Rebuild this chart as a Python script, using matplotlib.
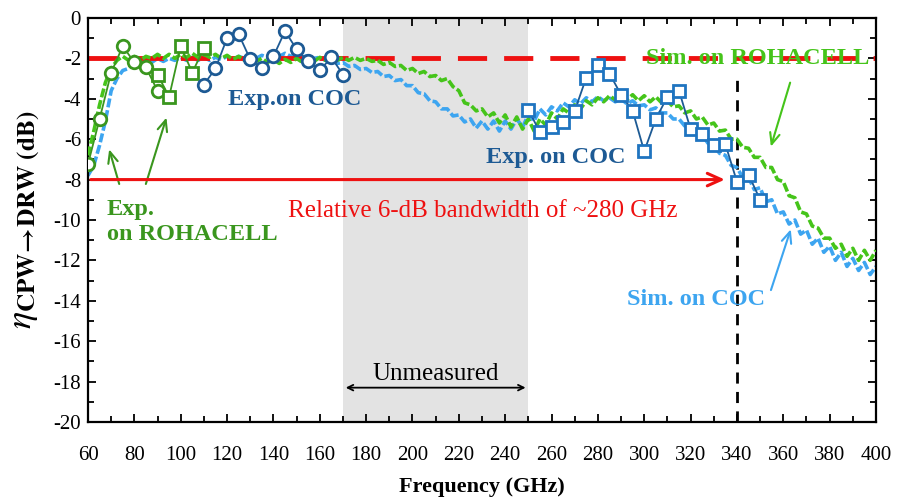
import numpy as np
import matplotlib
matplotlib.use("Agg")
import matplotlib.pyplot as plt
from matplotlib.ticker import MultipleLocator

plt.rcParams['font.family'] = ['Liberation Serif', 'DejaVu Serif']
plt.rcParams['mathtext.fontset'] = 'stix'
plt.rcParams['axes.unicode_minus'] = False

# simulated curves, sampled every 2.5 GHz from 60 to 400 GHz
sim_step = 2.5
sim_rohacell = [
    -6.8, -5.6, -4.3, -3.2, -2.5, -2.1, -1.9, -2.1, -1.9, -2.1,
    -1.9, -2.0, -1.8, -2.0, -1.8, -2.0, -1.8, -1.95, -1.75, -1.95,
    -1.8, -1.95, -1.8, -2.0, -1.85, -2.05, -1.9, -2.1, -1.95, -2.15,
    -2.0, -2.2, -2.05, -2.25, -2.05, -2.2, -2.0, -2.2, -2.0, -2.15,
    -1.95, -2.1, -1.95, -2.1, -1.95, -2.1, -1.95, -2.1, -2.0, -2.15,
    -2.1, -2.3, -2.2, -2.4, -2.35, -2.6, -2.5, -2.75, -2.65, -2.9,
    -2.85, -3.1, -3.0, -3.4, -3.6, -4.2, -4.3, -4.6, -4.5, -4.9,
    -4.7, -5.2, -4.8, -5.4, -4.9, -5.5, -5.0, -5.6, -5.0, -5.3,
    -4.7, -5.0, -4.5, -4.7, -4.3, -4.5, -4.1, -4.3, -3.95, -4.15,
    -3.85, -4.05, -3.85, -4.05, -3.8, -4.1, -3.85, -4.15, -3.9, -4.2,
    -4.1, -4.4, -4.35, -4.7, -4.6, -5.0, -4.9, -5.3, -5.2, -5.6,
    -5.55, -6.0, -6.0, -6.4, -6.45, -6.9, -6.9, -7.4, -7.4, -8.0,
    -8.1, -8.8, -8.9, -9.6, -9.7, -10.3, -10.4, -10.9, -10.9, -11.4,
    -11.2, -11.8, -11.4, -12.0, -11.5, -12.0, -11.5,
]
sim_coc = [
    -7.8, -7.3, -6.3, -5.1, -3.6, -3.0, -2.6, -2.5, -2.2, -2.3,
    -2.1, -2.2, -2.0, -2.15, -2.0, -2.1, -1.95, -2.1, -1.95, -2.1,
    -1.95, -2.1, -1.95, -2.05, -1.9, -2.05, -1.9, -2.0, -1.85, -2.0,
    -1.85, -1.95, -1.8, -1.9, -1.75, -1.9, -1.8, -1.95, -1.85, -2.0,
    -1.95, -2.1, -2.05, -2.25, -2.2, -2.4, -2.35, -2.55, -2.5, -2.7,
    -2.65, -2.9, -2.85, -3.1, -3.05, -3.35, -3.35, -3.7, -3.75, -4.1,
    -4.15, -4.5, -4.5, -4.85, -4.8, -5.15, -5.0, -5.45, -5.1, -5.5,
    -5.1, -5.6, -5.1, -5.5, -5.0, -5.4, -4.8, -5.1, -4.5, -4.8,
    -4.4, -4.6, -4.2, -4.4, -4.05, -4.25, -3.95, -4.15, -3.9, -4.1,
    -3.95, -4.15, -4.0, -4.25, -4.1, -4.35, -4.3, -4.55, -4.45, -4.7,
    -4.7, -5.0, -5.0, -5.35, -5.4, -5.75, -5.8, -6.2, -6.3, -6.7,
    -6.8, -7.3, -7.4, -7.9, -7.9, -8.5, -8.4, -9.1, -9.0, -9.7,
    -9.6, -10.2, -10.0, -10.7, -10.5, -11.2, -10.9, -11.6, -11.3, -12.0,
    -11.6, -12.3, -11.9, -12.5, -12.1, -12.7, -12.3,
]

# measured, ROHACELL
roh_circ_f = [60, 65, 70, 75, 80, 85, 90]
roh_circ_v = [-7.23, -5.0, -2.7, -1.4, -2.2, -2.45, -3.6]
roh_sq_f = [90, 95, 100, 105, 110]
roh_sq_v = [-2.8, -3.9, -1.4, -2.7, -1.5]

# measured, COC
coc_circ_f = [110, 115, 120, 125, 130, 135, 140, 145, 150, 155, 160, 165, 170]
coc_circ_v = [-3.3, -2.5, -1.0, -0.8, -2.05, -2.5, -1.9, -0.65, -1.55, -2.15,
              -2.6, -1.95, -2.8]
coc_sq_f = [250, 255, 260, 265, 270, 275, 280, 285, 290, 295, 300, 305, 310,
            315, 320, 325, 330, 335, 340, 345, 350]
coc_sq_v = [-4.55, -5.65, -5.4, -5.15, -4.6, -2.95, -2.35, -2.75, -3.8, -4.6,
            -6.6, -5.0, -3.9, -3.6, -5.5, -5.75, -6.3, -6.25, -8.1, -7.75, -9.0]

ref_level = -2
bw_level = -8
bw_edge = 340
unmeasured = (170, 250)

green_sim = '#45C41A'
blue_sim = '#3DA5F0'
green_exp = '#3A961E'
navy = '#1D5A94'
sq_blue = '#1F74C0'

fig = plt.figure(figsize=(8.98, 4.99), dpi=100)
ax = fig.add_axes([0.098, 0.1543, 0.8775, 0.8097])

ax.axvspan(*unmeasured, color='#E3E3E3', lw=0, zorder=0)

sim_f = 60 + sim_step * np.arange(len(sim_coc))
ax.plot(sim_f, sim_coc, color=blue_sim, lw=2.6, ls=(0, (2.5, 0.8)), zorder=2)
ax.plot(sim_f, sim_rohacell, color=green_sim, lw=2.6, ls=(0, (2.5, 0.8)), zorder=3)

ax.axhline(ref_level, color='#EE1111', lw=3.5, ls=(0, (6, 3.5)), zorder=2.5)
ax.axvline(bw_edge, ymax=(20 - 2.7) / 20, color='black', lw=2, ls=(0, (4, 3)), zorder=1)

mk = dict(ms=9, mfc='white', mew=2, lw=1.3, zorder=5)
ax.plot(roh_circ_f, roh_circ_v, marker='o', color=green_exp, **mk)
ax.plot(roh_sq_f, roh_sq_v, marker='s', color=green_exp, **dict(mk, ms=8))
ax.plot(coc_circ_f, coc_circ_v, marker='o', color=navy, **mk)
ax.plot(coc_sq_f, coc_sq_v, marker='s', color=navy, mec=sq_blue,
        **dict(mk, ms=8))

# bandwidth arrow
ax.annotate('', xy=(336, bw_level), xytext=(60, bw_level),
            arrowprops=dict(arrowstyle='->,head_length=1.0,head_width=0.45',
                            color='#EE1111', lw=2.2), zorder=4)
ax.text(230.5, -9.55, 'Relative 6-dB bandwidth of ~280 GHz', color='#EE1111',
        fontsize=18, ha='center', va='center')

# unmeasured band
ax.annotate('', xy=(250, -18.3), xytext=(170, -18.3),
            arrowprops=dict(arrowstyle='<->', color='black', lw=1.3))
ax.text(210, -17.6, 'Unmeasured', fontsize=18, ha='center', va='center')

bold = dict(fontsize=17.5, fontweight='bold', ha='center', va='center')
ax.text(149, -4.06, 'Exp.on COC', color=navy, **bold)
ax.text(262, -6.9, 'Exp. on COC', color=navy, **bold)
ax.text(349, -2.0, 'Sim. on ROHACELL', color=green_sim, **bold)
ax.text(322.5, -13.95, 'Sim. on COC', color=blue_sim, **bold)
ax.text(68.2, -10.1, 'Exp.\non ROHACELL', color=green_exp, fontsize=17.5,
        fontweight='bold', ha='left', va='center', linespacing=1.2)

arr = dict(arrowstyle='->,head_length=0.8,head_width=0.35', lw=1.5)
ax.annotate('', xy=(354.3, -6.5), xytext=(363.3, -3.07),
            arrowprops=dict(arr, color=green_sim))
ax.annotate('', xy=(363.6, -10.33), xytext=(354.3, -13.6),
            arrowprops=dict(arr, color=blue_sim))
ax.annotate('', xy=(68.8, -6.37), xytext=(73.8, -8.35),
            arrowprops=dict(arr, color=green_exp))
ax.annotate('', xy=(94.2, -4.8), xytext=(84.6, -8.35),
            arrowprops=dict(arr, color=green_exp))

ax.set_xlim(60, 400)
ax.set_ylim(-20, 0)
ax.xaxis.set_major_locator(MultipleLocator(20))
ax.xaxis.set_minor_locator(MultipleLocator(10))
ax.yaxis.set_major_locator(MultipleLocator(2))
ax.yaxis.set_minor_locator(MultipleLocator(1))
ax.tick_params(which='both', direction='in', top=True, right=True,
               labelsize=15, width=1.3)
ax.tick_params(which='major', length=6)
ax.tick_params(which='minor', length=4)
ax.tick_params(axis='x', pad=17)
ax.tick_params(axis='y', pad=5)
for s in ax.spines.values():
    s.set_linewidth(1.6)

ax.set_xlabel('Frequency (GHz)', fontsize=16, fontweight='bold', labelpad=9)
ax.set_ylabel(r'$\eta_{\mathbf{CPW\!\rightarrow\!DRW\ (dB)}}$', fontsize=26,
              labelpad=8)

fig.savefig('out.png', dpi=100)
